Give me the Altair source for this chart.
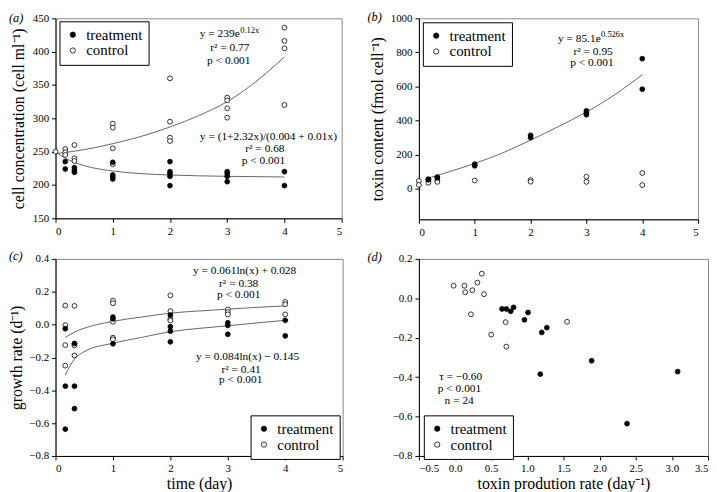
import altair as alt
import pandas as pd

FONT = "Liberation Serif"

# ---------------- data ----------------
# (a) cell concentration
a_ctrl_x = [0, 0.17, 0.17, 0.17, 0.33, 0.33, 0.33, 1, 1, 1, 1, 2, 2, 2, 2, 3, 3, 3, 3, 4, 4, 4, 4]
a_ctrl_y = [250, 254, 249, 245, 260, 240, 236, 292, 286, 255, 231, 360, 295, 271, 266, 331, 327, 315, 301, 436, 416, 405, 320]
a_trt_x = [0.17, 0.17, 0.33, 0.33, 0.33, 1, 1, 1, 1, 2, 2, 2, 2, 2, 3, 3, 3, 3, 4, 4]
a_trt_y = [235, 224, 226, 222, 219, 234, 215, 212, 209, 235, 220, 217, 213, 199, 220, 217, 213, 205, 220, 199]
a_fit_ctrl_x = [0, 0.5, 1, 1.5, 2, 2.5, 3, 3.5, 4]
a_fit_ctrl_y = [247, 253, 262, 273, 287, 304, 325, 355, 392]
a_fit_trt_x = [0, 0.17, 0.33, 0.5, 1, 1.5, 2, 3, 4]
a_fit_trt_y = [250, 240, 234, 229, 221, 217, 215, 213, 212]

# (b) toxin content
b_trt_x = [0.17, 0.17, 0.33, 0.33, 1, 1, 2, 2, 3, 3, 3, 4, 4]
b_trt_y = [56, 52, 68, 64, 144, 134, 313, 300, 457, 445, 434, 763, 584]
b_ctrl_x = [0, 0, 0.17, 0.17, 0.33, 0.33, 1, 2, 2, 3, 3, 4, 4]
b_ctrl_y = [45, 22, 47, 35, 50, 40, 48, 51, 41, 70, 40, 92, 21]
b_fit_x = [0.17, 0.5, 1, 1.5, 2, 2.5, 3, 3.5, 4]
b_fit_y = [62, 95, 148, 210, 285, 365, 450, 550, 669]

# (c) growth rate
c_ctrl_x = [0.17, 0.17, 0.17, 0.17, 0.33, 0.33, 0.33, 0.33, 1, 1, 1, 1, 1, 2, 2, 2, 2, 3, 3, 3, 4, 4, 4]
c_ctrl_y = [0.116, -0.003, -0.125, -0.25, 0.114, -0.118, -0.127, -0.188, 0.146, 0.13, 0.017, -0.08, -0.09,
            0.178, 0.082, 0.035, 0.025, 0.092, 0.076, 0.062, 0.138, 0.124, 0.062]
c_trt_x = [0.17, 0.17, 0.17, 0.33, 0.33, 0.33, 1, 1, 1, 2, 2, 2, 2, 3, 3, 3, 4, 4]
c_trt_y = [-0.025, -0.375, -0.637, -0.115, -0.375, -0.512, 0.046, 0.035, -0.117,
           0.058, -0.013, -0.04, -0.105, 0.011, -0.005, -0.059, 0.026, -0.069]
c_fit_up_x = [0.17, 0.33, 0.5, 1, 1.5, 2, 2.5, 3, 3.5, 4]
c_fit_up_y = [-0.079, -0.045, -0.022, 0.02, 0.046, 0.07, 0.083, 0.094, 0.105, 0.114]
c_fit_lo_x = [0.17, 0.33, 0.5, 1, 1.5, 2, 2.5, 3, 3.5, 4]
c_fit_lo_y = [-0.307, -0.21, -0.165, -0.113, -0.078, -0.043, -0.023, -0.007, 0.01, 0.026]

# (d) growth rate vs toxin production rate
d_ctrl_x = [-0.02, 0.13, 0.14, 0.24, 0.31, 0.37, 0.40, 0.22, 0.70, 0.50, 0.71, 1.55]
d_ctrl_y = [0.064, 0.064, 0.031, 0.041, 0.08, 0.125, 0.021, -0.081, -0.121, -0.184, -0.245, -0.119]
d_trt_x = [0.65, 0.71, 0.77, 0.81, 1.01, 0.96, 1.27, 1.20, 1.89, 1.18, 3.08, 2.38]
d_trt_y = [-0.054, -0.054, -0.066, -0.046, -0.072, -0.109, -0.149, -0.173, -0.317, -0.385, -0.372, -0.636]

GROUPS = ["treatment", "control"]


def points_df(cx, cy, tx, ty):
    return pd.DataFrame({
        "x": list(cx) + list(tx),
        "y": list(cy) + list(ty),
        "g": ["control"] * len(cx) + ["treatment"] * len(tx),
    })


def fits_df(*curves):
    xs, ys, ids = [], [], []
    for i, (fx, fy) in enumerate(curves):
        xs += list(fx)
        ys += list(fy)
        ids += [i] * len(fx)
    return pd.DataFrame({"x": xs, "y": ys, "c": ids})


def txt(text, px, py, size=11.5, align="center", italic=False):
    return alt.Chart(alt.Data(values=[{}])).mark_text(
        text=text, font=FONT, fontSize=size, align=align, baseline="middle",
        color="black", fontStyle="italic" if italic else "normal",
    ).encode(x=alt.value(px), y=alt.value(py))


def panel(pdf, fdf, xdom, xticks, xfmt, ydom, yticks, yfmt, w, h,
          xtitle, ytitle, ytp, legxy, texts):
    x_enc = alt.X("x:Q", scale=alt.Scale(domain=xdom, nice=False, zero=False),
                  axis=alt.Axis(values=xticks, format=xfmt, title=xtitle, titlePadding=2))
    y_enc = alt.Y("y:Q", scale=alt.Scale(domain=ydom, nice=False, zero=False),
                  axis=alt.Axis(values=yticks, format=yfmt, title=ytitle, titlePadding=ytp))
    layers = []
    if len(fdf):
        layers.append(alt.Chart(fdf).mark_line(color="#555555", strokeWidth=0.9,
                                               interpolate="monotone").encode(
            x=x_enc, y=y_enc, detail="c:N"))
    pts = alt.Chart(pdf).mark_point(shape="circle", filled=True, size=24, stroke="black",
                                    strokeWidth=0.8, opacity=1).encode(
        x=x_enc, y=y_enc,
        fill=alt.Fill("g:N", scale=alt.Scale(domain=GROUPS, range=["black", "white"]),
                      legend=alt.Legend(title=None, orient="none", legendX=legxy[0], legendY=legxy[1])),
    )
    layers.append(pts)
    return alt.layer(*layers, *texts).properties(width=w, height=h)


pa = panel(points_df(a_ctrl_x, a_ctrl_y, a_trt_x, a_trt_y),
           fits_df((a_fit_ctrl_x, a_fit_ctrl_y), (a_fit_trt_x, a_fit_trt_y)),
           [0, 5], [0, 1, 2, 3, 4, 5], "d", [150, 450], [150, 200, 250, 300, 350, 400, 450], "d",
           289, 202, None, "cell concentration (cell ml\u207b\u00b9)", 6, (4, 3),
           [txt("y = 239e", 186, 15.8, align="right"), txt("0.12x", 186.5, 11.5, size=8.5, align="left"),
            txt("r\u00b2 = 0.77", 176, 29.8), txt("p < 0.001", 175, 42.8),
            txt("y = (1+2.32x)/(0.004 + 0.01x)", 215, 120), txt("r\u00b2 = 0.68", 211.5, 132.3),
            txt("p < 0.001", 210, 143.8),
            txt("(a)", -47, 0, size=12.5, align="left", italic=True)])

pb = panel(points_df(b_ctrl_x, b_ctrl_y, b_trt_x, b_trt_y),
           fits_df((b_fit_x, b_fit_y)),
           [0, 5], [0, 1, 2, 3, 4, 5], "d", [-180, 1000], [0, 200, 400, 600, 800, 1000], "d",
           282, 203, None, "toxin content (fmol cell\u207b\u00b9)", 5, (4, 4),
           [txt("y = 85.1e", 183.6, 20.6, align="right"), txt("0.526x", 184, 16.3, size=8.5, align="left"),
            txt("r\u00b2 = 0.95", 176, 34), txt("p < 0.001", 174.7, 45.6),
            txt("(b)", -52, -1, size=12.5, align="left", italic=True)])

pc = panel(points_df(c_ctrl_x, c_ctrl_y, c_trt_x, c_trt_y),
           fits_df((c_fit_up_x, c_fit_up_y), (c_fit_lo_x, c_fit_lo_y)),
           [0, 5], [0, 1, 2, 3, 4, 5], "d", [-0.8, 0.4], [-0.8, -0.6, -0.4, -0.2, 0.0, 0.2, 0.4], ".1f",
           290, 199, "time (day)", "growth rate (d\u207b\u00b9)", 4, (197, 158),
           [txt("y = 0.061ln(x) + 0.028", 191, 12.7), txt("r\u00b2 = 0.38", 185, 25.4),
            txt("p < 0.001", 185, 36.7),
            txt("y = 0.084ln(x) \u2212 0.145", 194, 99.4), txt("r\u00b2 = 0.41", 187.5, 112),
            txt("p < 0.001", 187, 122.7),
            txt("(c)", -47, -3, size=12.5, align="left", italic=True)])

pd_ = panel(points_df(d_ctrl_x, d_ctrl_y, d_trt_x, d_trt_y),
            fits_df(),
            [-0.5, 3.5], [-0.5, 0, 0.5, 1, 1.5, 2, 2.5, 3, 3.5], ".1f", [-0.8, 0.2],
            [-0.8, -0.6, -0.4, -0.2, 0.0, 0.2], ".1f",
            292, 199, "toxin prodution rate (day\u207b\u00b9)", None, 4, (5, 158),
            [txt("\u03c4 = \u22120.60", 42.2, 119.3), txt("p < 0.001", 41, 131),
             txt("n = 24", 40.7, 143.6),
             txt("(d)", -52, -2, size=12.5, align="left", italic=True)])

chart = alt.concat(pa, pb, pc, pd_, columns=2, spacing={"row": 40, "column": 77},
                   bounds="flush").resolve_scale(
    fill="independent").resolve_legend(fill="independent").properties(padding=0).configure(
    font=FONT).configure_view(stroke="#888888", strokeWidth=1).configure_axis(
    domainColor="black", tickColor="black", labelColor="black", titleColor="black", grid=False,
    labelFont=FONT, titleFont=FONT, labelFontSize=11, titleFontSize=16, titleFontWeight="normal",
    tickSize=4, labelPadding=3, domainWidth=1, tickWidth=1).configure_legend(
    strokeColor="black", fillColor="white", padding=6, labelFont=FONT, labelFontSize=15,
    labelColor="black", symbolSize=28, symbolStrokeColor="black", symbolStrokeWidth=0.8,
    labelOffset=6, rowPadding=0, symbolType="circle", cornerRadius=0)

chart.save("out.html", embed_options={"renderer": "svg", "actions": False})
